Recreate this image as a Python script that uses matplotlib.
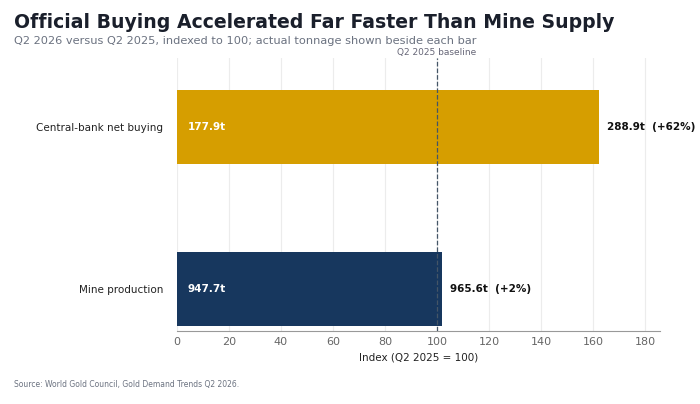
import matplotlib
matplotlib.use("Agg")
import matplotlib.pyplot as plt

categories = ["Mine production", "Central-bank net buying"]
q2_2025 = [947.7, 177.9]
q2_2026 = [965.6, 288.9]
colors = ["#17375e", "#d69e00"]

index = [b / a * 100 for a, b in zip(q2_2025, q2_2026)]

fig = plt.figure(figsize=(7, 4.04), dpi=100)
ax = fig.add_axes([177/700, 1-331/404, (660-177)/700, (331-58)/404])
ypos = [0, 1]
ax.barh(ypos, index, height=0.457, color=colors, zorder=2)
ax.set_xlim(0, 185.8)
ax.set_ylim(-0.26, 1.426)
ax.set_yticks(ypos)
ax.set_yticklabels(categories, fontsize=7.5, color="#222222")
ax.set_xticks(range(0, 181, 20))
ax.tick_params(axis="x", labelsize=8, colors="#666666", length=0, pad=4)
ax.tick_params(axis="y", length=0, pad=10)
ax.grid(axis="x", color="#ececec", linewidth=0.8, zorder=0)
for s in ["top", "right", "left"]:
    ax.spines[s].set_visible(False)
ax.spines["bottom"].set_color("#999999")
ax.set_xlabel("Index (Q2 2025 = 100)", fontsize=7.5, color="#222222")
ax.axvline(100, color="#445566", linestyle="--", linewidth=0.9, zorder=3)
ax.text(100, 1.43, "Q2 2025 baseline", fontsize=6.5, color="#666677", ha="center", va="bottom")
for y, v, a, b in zip(ypos, index, q2_2025, q2_2026):
    ax.text(4, y, f"{a:.1f}t", color="white", fontsize=7.5, fontweight="bold", va="center")
    pct = (b / a - 1) * 100
    ax.text(v + 3, y, f"{b:.1f}t  (+{pct:.0f}%)", color="#111111", fontsize=7.5, fontweight="bold", va="center")

fig.text(14/700, 1-22/404, "Official Buying Accelerated Far Faster Than Mine Supply", fontsize=13.6,
         fontweight="bold", color="#1a1f2b", va="center")
fig.text(14/700, 1-41/404, "Q2 2026 versus Q2 2025, indexed to 100; actual tonnage shown beside each bar",
         fontsize=8.2, color="#6b7280", va="center")
fig.text(14/700, 1-385/404, "Source: World Gold Council, Gold Demand Trends Q2 2026.", fontsize=5.5,
         color="#6b7280", va="center")
fig.savefig("out.png", dpi=100)
